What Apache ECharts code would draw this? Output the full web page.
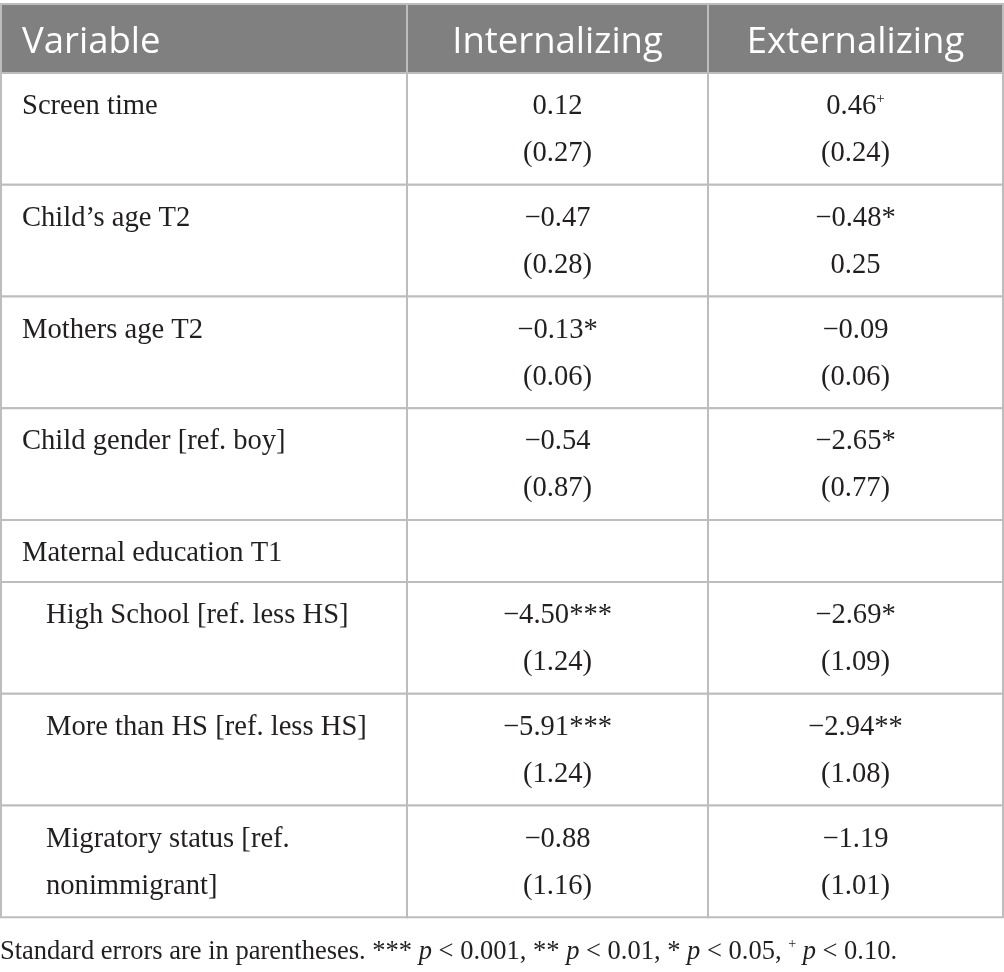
<!DOCTYPE html>
<html>
<head>
<meta charset="utf-8">
<title>Screen time and child behaviour</title>
<script src="https://cdn.jsdelivr.net/npm/echarts@6.0.0/dist/echarts.min.js"></script>
<style>
  html, body { margin: 0; padding: 0; background: #fff; }
  #chart { width: 1004px; height: 972px; }
</style>
</head>
<body>
<div id="chart"></div>
<script>
// Table content
const headers = ['Variable', 'Internalizing', 'Externalizing'];
const variables = [
    'Screen time',
    'Child\u2019s age T2',
    'Mothers age T2',
    'Child gender [ref. boy]',
    'Maternal education T1',
    'High School [ref. less HS]',
    'More than HS [ref. less HS]',
    'Migratory status [ref.\nnonimmigrant]'
];
const indented = [false, false, false, false, false, true, true, true];
const internalCoef = ['0.12', '\u22120.47', '\u22120.13*', '\u22120.54', '', '\u22124.50***', '\u22125.91***', '\u22120.88'];
const internalSE = ['(0.27)', '(0.28)', '(0.06)', '(0.87)', '', '(1.24)', '(1.24)', '(1.16)'];
const externalCoef = ['0.46+', '\u22120.48*', '\u22120.09', '\u22122.65*', '', '\u22122.69*', '\u22122.94**', '\u22121.19'];
const externalSE = ['(0.24)', '0.25', '(0.06)', '(0.77)', '', '(1.09)', '(1.08)', '(1.01)'];
const footnote = 'Standard errors are in parentheses. *** {i|p} < 0.001, ** {i|p} < 0.01, * {i|p} < 0.05, {sup|+} {i|p} < 0.10.';

// Layout
const COL_W = [406, 301, 295];
const HEAD_H = 69;
const ROW_H = 111.75;
const SHORT_H = 62;
const PAD_LEFT = 21;
const INDENT = 24;
const FIRST_Y = 33.5;
const LINE_GAP = 47;
const HEAD_Y = 38.5;

const SERIF = '"Liberation Serif", "Times New Roman", serif';
const SANS = '"Open Sans", "Noto Sans", sans-serif';
const INK = '#231f20';
const LINE = '#bdbdbd';

const rowH = [HEAD_H].concat(variables.map((v, i) => internalCoef[i] === '' ? SHORT_H : ROW_H));
const rowTop = [];
let acc = 0;
rowH.forEach(h => { rowTop.push(acc); acc += h; });
const totalH = acc;
const colLeft = [0, COL_W[0], COL_W[0] + COL_W[1]];
const totalW = COL_W[0] + COL_W[1] + COL_W[2];

const cells = [];
for (let r = 0; r < rowH.length; r++) {
    for (let c = 0; c < headers.length; c++) {
        cells.push([c, r]);
    }
}

function withSup(s) {
    return s.replace(/\+$/, '{sup|+}');
}

const richBody = {
    sup: { fontSize: 15, fontFamily: SERIF, fill: INK, verticalAlign: 'top' }
};

function cellLines(c, r) {
    if (r === 0) return [headers[c]];
    const i = r - 1;
    if (c === 0) return variables[i].split('\n');
    if (c === 1) return internalCoef[i] ? [internalCoef[i], internalSE[i]] : [];
    return externalCoef[i] ? [externalCoef[i], externalSE[i]] : [];
}

function renderItem(params, api) {
    const c = api.value(0);
    const r = api.value(1);
    const p0 = api.coord([colLeft[c], rowTop[r]]);
    const p1 = api.coord([colLeft[c] + COL_W[c], rowTop[r] + rowH[r]]);
    const children = [{
        type: 'rect',
        shape: { x: p0[0], y: p0[1], width: p1[0] - p0[0], height: p1[1] - p0[1] },
        style: { fill: r === 0 ? '#808080' : '#ffffff', stroke: LINE, lineWidth: 2 }
    }];
    const lines = cellLines(c, r);
    const isHead = r === 0;
    let tx, align;
    if (c === 0) {
        tx = p0[0] + PAD_LEFT + (!isHead && indented[r - 1] ? INDENT : 0);
        align = 'left';
    } else {
        tx = (p0[0] + p1[0]) / 2;
        align = 'center';
    }
    lines.forEach((line, j) => {
        children.push({
            type: 'text',
            style: {
                x: tx,
                y: p0[1] + (isHead ? HEAD_Y : FIRST_Y + j * LINE_GAP),
                text: isHead ? line : withSup(line),
                fontFamily: isHead ? SANS : SERIF,
                fontSize: isHead ? 36.5 : 28.6,
                fill: isHead ? '#ffffff' : INK,
                align: align,
                verticalAlign: 'middle',
                rich: richBody
            }
        });
    });
    return { type: 'group', children: children };
}

const chart = echarts.init(document.getElementById('chart'));
chart.setOption({
    animation: false,
    backgroundColor: '#ffffff',
    title: {
        text: footnote,
        left: 0,
        top: 937,
        padding: 0,
        textStyle: {
            fontFamily: SERIF,
            fontSize: 26.5,
            fontWeight: 'normal',
            color: INK,
            lineHeight: 30,
            rich: {
                i: { fontFamily: SERIF, fontSize: 26.5, fontStyle: 'italic', color: INK, lineHeight: 30 },
                sup: { fontFamily: SERIF, fontSize: 14, color: INK, verticalAlign: 'top', lineHeight: 30 }
            }
        }
    },
    grid: { left: 1, top: 4, width: totalW, height: totalH },
    xAxis: { type: 'value', min: 0, max: totalW, show: false },
    yAxis: { type: 'value', min: 0, max: totalH, inverse: true, show: false },
    series: [{
        type: 'custom',
        clip: false,
        silent: true,
        renderItem: renderItem,
        data: cells
    }]
});

window.addEventListener('resize', function() {
    chart.resize();
});
</script>
</body>
</html>
